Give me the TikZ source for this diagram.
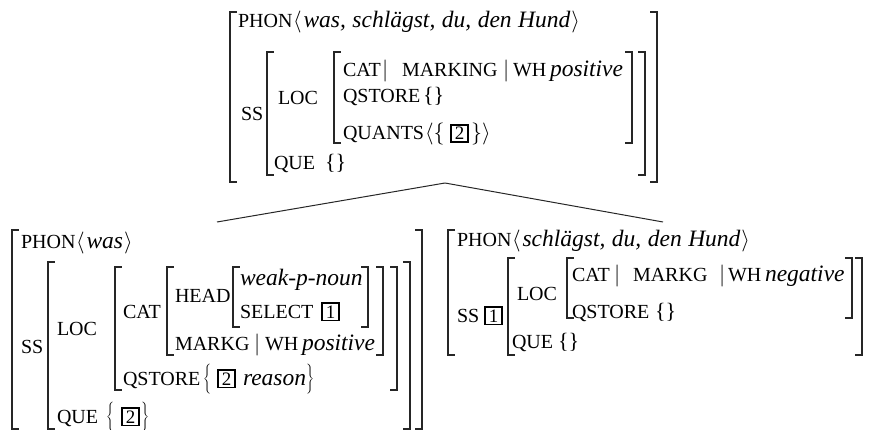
\documentclass[tikz,border=0pt]{standalone}
\usepackage{fix-cm}
\usepackage{fontspec}
\setmainfont{Liberation Serif}
\newcommand\fs[1]{{\fontsize{20}{32}\selectfont #1}}
\newcommand\vl[1]{{\fontsize{23.5}{32}\selectfont\itshape\spaceskip=6.5pt plus 1pt #1}}
\newcommand\tg[1]{{\setlength\fboxsep{1.5pt}\setlength\fboxrule{1.9pt}\fbox{\kern1.5pt\fontsize{19}{19}\selectfont #1\kern1.5pt}}}
\newcommand\bgd[1]{$\left#1\vrule height 16pt depth 10pt width 0pt\right.$}
\tikzset{
  txt/.style={anchor=base west,inner sep=0pt,outer sep=0pt,font=\fontsize{22}{32}\selectfont},
  brk/.style={line width=1.6pt,line cap=rect,draw=black!85},
  branch/.style={line width=1pt,draw=black!85}
}
\newcommand\tx[4]{\node[txt] (#1) at (#2,#3) {#4};}
\newcommand\lbrk[3]{\draw[brk] (#1+6,#2) -- (#1,#2) -- (#1,#3) -- (#1+6,#3);}
\newcommand\rbrk[3]{\draw[brk] (#1-6,#2) -- (#1,#2) -- (#1,#3) -- (#1-6,#3);}
\begin{document}
\begin{tikzpicture}[x=1pt,y=-1pt]
\useasboundingbox (0,0) rectangle (869,430);
% ---------- top AVM ----------
\tx{tphon}{238}{28}{\fs{PHON}}
\tx{tphonv}{293}{28}{$\langle$\kern2pt\vl{was, schlägst, du, den Hund}\kern1pt$\rangle$}
\tx{tss}{241}{121}{\fs{SS}}
\tx{tloc}{278}{105}{\fs{LOC}}
\tx{tcat}{343}{77}{\fs{CAT}}
\tx{tbar1}{382}{77}{$|$}
\tx{tmarking}{402}{77}{\fs{MARKING}}
\tx{tbar2}{503}{77}{$|$}
\tx{twh}{513}{77}{\fs{WH}}
\tx{tpos}{550}{77}{\vl{positive}}
\tx{tqstore}{343}{103}{\fs{QSTORE}}
\tx{tqstorev}{423}{103}{\{\}}
\tx{tquants}{343}{140}{\fs{QUANTS}}
\tx{tqa}{425}{140}{$\langle\{$}
\tx{tqb}{450}{140}{\tg{2}}
\tx{tqc}{471}{140}{$\}\rangle$}
\tx{tque}{274}{170}{\fs{QUE}}
\tx{tquev}{325}{170}{\{\}}
\lbrk{230}{12}{182}
\rbrk{657}{12}{182}
\lbrk{267}{52}{175}
\rbrk{645}{52}{175}
\lbrk{334}{52}{143}
\rbrk{632}{52}{143}
% ---------- left daughter ----------
\tx{lphon}{21}{248}{\fs{PHON}}
\tx{lphonv}{76}{248}{$\langle$\kern2pt\vl{was}\kern1pt$\rangle$}
\tx{lss}{21}{353}{\fs{SS}}
\tx{lloc}{57}{335}{\fs{LOC}}
\tx{lcat}{123}{318}{\fs{CAT}}
\tx{lhead}{175}{302}{\fs{HEAD}}
\tx{lweak}{240}{285}{\vl{weak-p-noun}}
\tx{lselect}{240}{318}{\fs{SELECT}}
\tx{ltag1}{321}{318}{\tg{1}}
\tx{lmarkg}{175}{350}{\fs{MARKG}}
\tx{lbar}{254}{350}{$|$}
\tx{lwh}{265}{350}{\fs{WH}}
\tx{lpos}{302}{350}{\vl{positive}}
\tx{lqstore}{123}{385}{\fs{QSTORE}}
\tx{lqa}{203}{385}{\bgd\{}
\tx{ltag2}{217}{385}{\tg{2}}
\tx{lreason}{243}{385}{\vl{reason}}
\tx{lqc}{306}{385}{\bgd\}}
\tx{lque}{57}{423}{\fs{QUE}}
\tx{lquea}{106}{423}{\bgd\{}
\tx{ltag3}{121}{423}{\tg{2}}
\tx{lquec}{141}{423}{\bgd\}}
\lbrk{12}{230}{429}
\rbrk{422}{230}{429}
\lbrk{48}{262}{429}
\rbrk{410}{262}{429}
\lbrk{115}{267}{390}
\rbrk{397}{267}{390}
\lbrk{167}{267}{355}
\rbrk{383}{267}{355}
\lbrk{233}{267}{327}
\rbrk{368}{267}{327}
% ---------- right daughter ----------
\tx{rphon}{457}{247}{\fs{PHON}}
\tx{rphonv}{512}{247}{$\langle$\kern2pt\vl{schlägst, du, den Hund}\kern1pt$\rangle$}
\tx{rss}{457}{322}{\fs{SS}}
\tx{rtag}{484}{322}{\tg{1}}
\tx{rloc}{517}{300}{\fs{LOC}}
\tx{rcat}{572}{281}{\fs{CAT}}
\tx{rbar1}{614}{281}{$|$}
\tx{rmarkg}{633}{281}{\fs{MARKG}}
\tx{rbar2}{719}{281}{$|$}
\tx{rwh}{728}{281}{\fs{WH}}
\tx{rneg}{765}{281}{\vl{negative}}
\tx{rqstore}{572}{318}{\fs{QSTORE}}
\tx{rqstorev}{655}{318}{\{\}}
\tx{rque}{512}{348}{\fs{QUE}}
\tx{rquev}{558}{348}{\{\}}
\lbrk{448}{230}{355}
\rbrk{880}{230}{355}
\lbrk{508}{258}{355}
\rbrk{862}{258}{355}
\lbrk{567}{258}{318}
\rbrk{852}{258}{318}
% ---------- tree branches ----------
\coordinate (apex) at (445,183);
\coordinate (ltop) at (217,222);
\coordinate (rtop) at (663,222);
\draw[branch] (apex) -- (ltop);
\draw[branch] (apex) -- (rtop);
\end{tikzpicture}
\end{document}
